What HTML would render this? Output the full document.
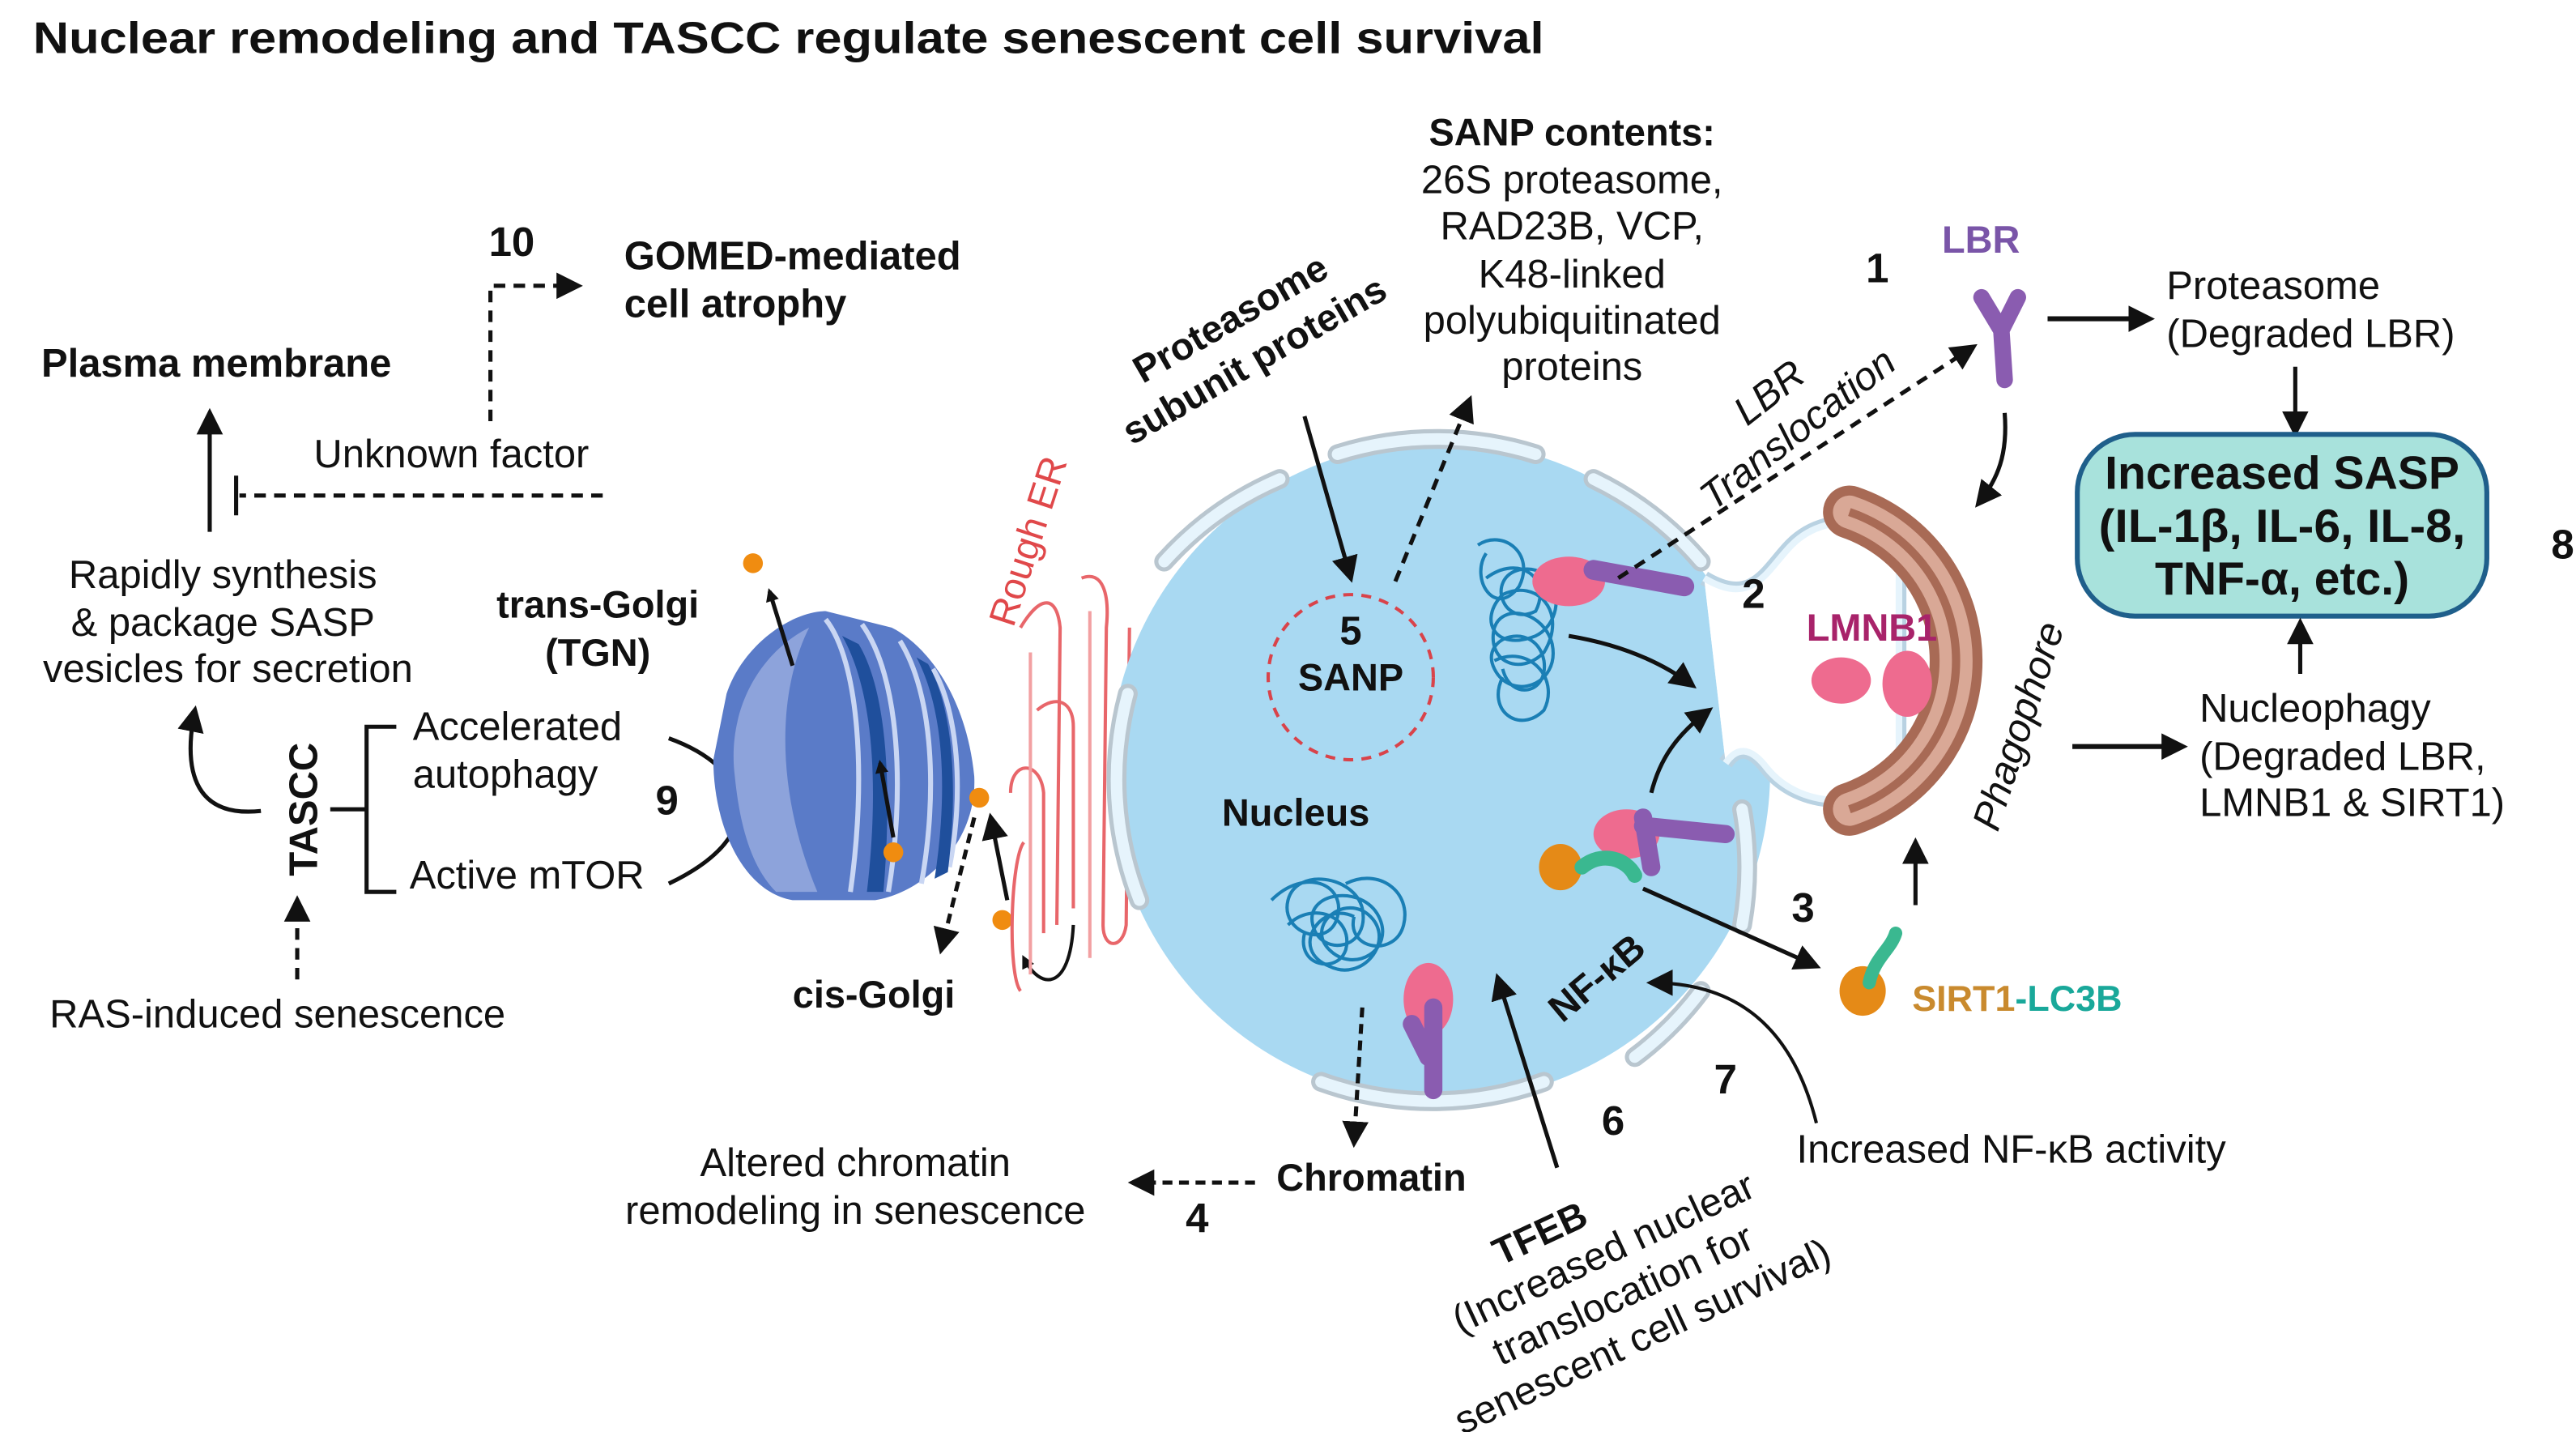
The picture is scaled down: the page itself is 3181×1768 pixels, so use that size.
<!DOCTYPE html>
<html><head><meta charset="utf-8"><style>
html,body{margin:0;padding:0;background:#fff;}
svg{display:block;}
text{font-family:"Liberation Sans",sans-serif;fill:#111;}
.b{font-weight:bold;}
.r{font-size:24px;}
</style></head><body>
<svg width="3181" height="1768" viewBox="0 0 1560 867" xmlns="http://www.w3.org/2000/svg">
<defs>
<marker id="ah" markerWidth="8" markerHeight="8" refX="6" refY="4" orient="auto" markerUnits="userSpaceOnUse"><path d="M0,0 L8,4 L0,8 z" fill="#111"/></marker>
<marker id="ahb" markerWidth="16" markerHeight="16" refX="13" refY="8" orient="auto" markerUnits="userSpaceOnUse"><path d="M0,0 L16,8 L0,16 z" fill="#111"/></marker>
</defs>
<rect width="1560" height="867" fill="#fff"/>
<text x="20" y="32" class="b" font-size="27" textLength="915" lengthAdjust="spacingAndGlyphs">Nuclear remodeling and TASCC regulate senescent cell survival</text>

<text x="296" y="155" class="b" font-size="25">10</text>
<text x="378" y="163" class="b" font-size="24">GOMED-mediated</text>
<text x="378" y="192" class="b" font-size="24">cell atrophy</text>
<path d="M297,255 V173 H350" fill="none" stroke="#111" stroke-width="2.5" stroke-dasharray="7,5" marker-end="url(#ahb)"/>
<text x="25" y="228" class="b" font-size="24">Plasma membrane</text>
<line x1="127" y1="322" x2="127" y2="250" stroke="#111" stroke-width="2.5" marker-end="url(#ahb)"/>
<text x="190" y="283" class="r">Unknown factor</text>
<line x1="365" y1="300" x2="145" y2="300" stroke="#111" stroke-width="2.5" stroke-dasharray="7,5"/>
<line x1="143" y1="288" x2="143" y2="312" stroke="#111" stroke-width="2.5"/>
<text x="135" y="356" class="r" text-anchor="middle">Rapidly  synthesis</text>
<text x="135" y="385" class="r" text-anchor="middle">&amp; package SASP</text>
<text x="138" y="413" class="r" text-anchor="middle">vesicles for secretion</text>
<path d="M158,491 C120,495 110,470 118,430" fill="none" stroke="#111" stroke-width="2.5" marker-end="url(#ahb)"/>
<text transform="translate(192,490) rotate(-90)" class="b" font-size="24" text-anchor="middle">TASCC</text>
<path d="M240,440 H222 V540 H240 M200,490 H222" fill="none" stroke="#111" stroke-width="2.5"/>
<text x="250" y="448" class="r">Accelerated</text>
<text x="250" y="477" class="r">autophagy</text>
<text x="248" y="538" class="r">Active mTOR</text>
<text x="397" y="493" class="b" font-size="25">9</text>
<path d="M405,447 C455,465 468,505 405,535" fill="none" stroke="#111" stroke-width="2.5"/>
<line x1="180" y1="593" x2="180" y2="545" stroke="#111" stroke-width="2.5" stroke-dasharray="7,5" marker-end="url(#ahb)"/>
<text x="30" y="622" class="r">RAS-induced senescence</text>

<text x="362" y="374" class="b" font-size="23" text-anchor="middle">trans-Golgi</text>
<text x="362" y="403" class="b" font-size="23" text-anchor="middle">(TGN)</text>
<g>
<path d="M440,420 C450,390 480,370 500,370 L540,380 C560,390 585,420 590,470 C592,510 560,540 530,545 L480,545 C450,540 432,500 432,460 Z" fill="#5a7bc8"/>
<path d="M445,470 C440,430 460,395 490,380 C470,420 470,480 495,540 L470,540 C455,525 448,500 445,470Z" fill="#8da3db"/>
<path d="M500,375 C520,400 525,470 515,540 M522,378 C545,410 548,480 538,540 M545,388 C565,420 568,480 558,535 M565,405 C580,430 584,480 575,525" fill="none" stroke="#c9d6f3" stroke-width="3"/>
<path d="M510,385 C530,420 532,480 525,540 L535,540 C540,480 538,420 520,390Z" fill="#1f4f9c"/>
<path d="M555,398 C572,430 574,480 566,532 L574,528 C580,480 578,430 562,402Z" fill="#1f4f9c"/>
</g>
<circle cx="456" cy="341" r="6" fill="#f08c10"/>
<line x1="480" y1="403" x2="466" y2="358" stroke="#111" stroke-width="2.5" marker-end="url(#ah)"/>
<line x1="541" y1="507" x2="533" y2="462" stroke="#111" stroke-width="2.5" marker-end="url(#ah)"/>
<circle cx="541" cy="516" r="6" fill="#f08c10"/>
<circle cx="593" cy="483" r="6" fill="#f08c10"/>
<circle cx="607" cy="557" r="6" fill="#f08c10"/>
<line x1="590" y1="495" x2="570" y2="575" stroke="#111" stroke-width="2.5" stroke-dasharray="6,4" marker-end="url(#ahb)"/>
<line x1="610" y1="545" x2="600" y2="495" stroke="#111" stroke-width="2.5" marker-end="url(#ahb)"/>
<path d="M650,560 C648,600 630,600 620,580" fill="none" stroke="#111" stroke-width="2" marker-end="url(#ah)"/>
<text x="480" y="610" class="b" font-size="23">cis-Golgi</text>

<text transform="translate(630,330) rotate(-72)" font-size="23" style="fill:#e0484a" text-anchor="middle">Rough ER</text>
<path d="M618,380 C630,360 640,360 642,380 L640,560 M655,350 C668,345 672,360 670,380 L668,560 C668,575 680,575 682,560 L684,380 M628,430 C640,420 650,425 650,440 L650,550 M612,480 C612,460 630,460 632,480 L632,565 M618,600 C610,590 612,520 620,510" fill="none" stroke="#e8666a" stroke-width="2"/>
<path d="M624,395 L624,590 M660,370 L660,580" fill="none" stroke="#f2a0a2" stroke-width="2"/>

<circle cx="872" cy="467" r="200" fill="#a9d9f2"/>
<g fill="none" stroke="#b9c6cf" stroke-width="12" stroke-linecap="round">
<path d="M705,340 A200,200 0 0 1 775,290"/>
<path d="M810,275 A200,200 0 0 1 930,275"/>
<path d="M965,290 A200,200 0 0 1 1030,340"/>
<path d="M1055,490 A200,200 0 0 1 1055,560"/>
<path d="M1030,600 A200,200 0 0 1 990,640"/>
<path d="M935,655 A200,200 0 0 1 800,655"/>
<path d="M690,545 A200,200 0 0 1 683,420"/>
</g>
<g fill="none" stroke="#e6f4fc" stroke-width="7" stroke-linecap="round">
<path d="M705,340 A200,200 0 0 1 775,290"/>
<path d="M810,275 A200,200 0 0 1 930,275"/>
<path d="M965,290 A200,200 0 0 1 1030,340"/>
<path d="M1055,490 A200,200 0 0 1 1055,560"/>
<path d="M1030,600 A200,200 0 0 1 990,640"/>
<path d="M935,655 A200,200 0 0 1 800,655"/>
<path d="M690,545 A200,200 0 0 1 683,420"/>
</g>
<circle cx="818" cy="410" r="50" fill="none" stroke="#d9434a" stroke-width="2" stroke-dasharray="6,5"/>
<text x="818" y="390" class="b" font-size="24" text-anchor="middle">5</text>
<text x="818" y="418" class="b" font-size="23" text-anchor="middle">SANP</text>
<text x="740" y="500" class="b" font-size="23">Nucleus</text>
<g fill="none" stroke="#1a7fb5" stroke-width="2">
<path d="M900,350 c20,-15 40,0 30,20 c-20,10 -30,-20 -10,-25 c25,-5 30,30 10,40 c-25,10 -35,-10 -20,-25 c20,-10 40,10 25,35 c-15,15 -35,5 -30,-15 c5,-15 30,-10 35,10 c5,25 -25,35 -35,15 c-10,-20 25,-30 30,-5 c3,20 -20,25 -25,5"/>
<path d="M895,330 c15,-10 35,5 25,25 c-15,20 -30,-5 -20,-20 M905,400 c20,-10 40,10 30,30 c-15,15 -35,0 -25,-20"/>
<path d="M770,545 c20,-20 45,-10 40,10 c-5,20 -35,10 -30,-10 c5,-20 40,-15 45,5 c5,25 -25,30 -30,10 c-5,-20 30,-25 40,-5 c10,20 -15,35 -30,20 c-15,-15 10,-35 25,-20 c15,15 -5,40 -25,30 c-25,-10 -5,-40 15,-30"/>
<path d="M780,560 c15,-15 40,-5 35,15 c-5,15 -30,10 -25,-10 M815,535 c20,-10 40,5 35,25 c-5,20 -35,15 -30,-5"/>
</g>
<path d="M1032,350 C1062,368 1070,345 1085,330 C1110,305 1150,320 1150,330 L1150,470 C1130,490 1090,490 1070,465 C1060,452 1052,452 1045,462" fill="#fff" stroke="#b9d2e2" stroke-width="9"/>
<path d="M1032,350 C1062,368 1070,345 1085,330 C1110,305 1150,320 1150,330 L1150,470 C1130,490 1090,490 1070,465 C1060,452 1052,452 1045,462" fill="#fff" stroke="#e6f4fc" stroke-width="4"/>
<g>
<ellipse cx="950" cy="352" rx="22" ry="15" fill="#ee6b8f"/>
<path d="M965,345 L1020,355" stroke="#8a5cb0" stroke-width="12" stroke-linecap="round"/>
<ellipse cx="985" cy="505" rx="20" ry="15" fill="#ee6b8f"/>
<path d="M995,500 L1045,505 M995,495 L1000,525" stroke="#8a5cb0" stroke-width="11" stroke-linecap="round"/>
<ellipse cx="865" cy="605" rx="15" ry="22" fill="#ee6b8f"/>
<path d="M868,610 L868,660 M855,620 L865,640" stroke="#8a5cb0" stroke-width="11" stroke-linecap="round"/>
<ellipse cx="945" cy="525" rx="13" ry="14" fill="#e58a17"/>
<path d="M958,525 C970,515 985,520 990,530" stroke="#3ab890" stroke-width="9" fill="none" stroke-linecap="round"/>
</g>
<path d="M950,385 C980,390 1005,400 1025,415" fill="none" stroke="#111" stroke-width="2.5" marker-end="url(#ahb)"/>
<path d="M1000,480 C1005,460 1015,445 1035,430" fill="none" stroke="#111" stroke-width="2.5" marker-end="url(#ahb)"/>
<text transform="translate(755,210) rotate(-30)" class="b" font-size="23" text-anchor="middle"><tspan x="0" y="-12">Proteasome</tspan><tspan x="0" y="17">subunit proteins</tspan></text>
<line x1="790" y1="252" x2="818" y2="350" stroke="#111" stroke-width="2.5" marker-end="url(#ahb)"/>
<line x1="845" y1="352" x2="890" y2="242" stroke="#111" stroke-width="2.5" stroke-dasharray="7,5" marker-end="url(#ahb)"/>
<text x="952" y="88" class="b" font-size="23" text-anchor="middle">SANP contents:</text>
<text x="952" y="117" class="r" text-anchor="middle">26S proteasome,</text>
<text x="952" y="145" class="r" text-anchor="middle">RAD23B, VCP,</text>
<text x="952" y="174" class="r" text-anchor="middle">K48-linked</text>
<text x="952" y="202" class="r" text-anchor="middle">polyubiquitinated</text>
<text x="952" y="230" class="r" text-anchor="middle">proteins</text>
<text transform="translate(1085,255) rotate(-38)" class="r" text-anchor="middle" font-style="italic"><tspan x="0" y="-14">LBR</tspan><tspan x="0" y="14">Translocation</tspan></text>
<line x1="980" y1="350" x2="1195" y2="210" stroke="#111" stroke-width="2.5" stroke-dasharray="7,5" marker-end="url(#ahb)"/>
<text x="1176" y="153" class="b" font-size="23" style="fill:#7a55a8">LBR</text>
<text x="1130" y="171" class="b" font-size="25">1</text>
<path d="M1200,180 L1212,200 L1222,180 M1212,200 L1214,230" stroke="#8a5cb0" stroke-width="10" fill="none" stroke-linecap="round"/>
<line x1="1240" y1="193" x2="1302" y2="193" stroke="#111" stroke-width="3" marker-end="url(#ahb)"/>
<text x="1312" y="181" class="r">Proteasome</text>
<text x="1312" y="210" class="r">(Degraded LBR)</text>
<line x1="1390" y1="222" x2="1390" y2="262" stroke="#111" stroke-width="2.5" marker-end="url(#ahb)"/>
<rect x="1258" y="263" width="248" height="110" rx="35" fill="#a8e2dc" stroke="#1f5f8b" stroke-width="3"/>
<text x="1382" y="296" class="b" font-size="28" text-anchor="middle">Increased SASP</text>
<text x="1382" y="328" class="b" font-size="28" text-anchor="middle" textLength="222" lengthAdjust="spacingAndGlyphs">(IL-1β, IL-6, IL-8,</text>
<text x="1382" y="360" class="b" font-size="28" text-anchor="middle">TNF-α, etc.)</text>
<text x="1545" y="338" class="b" font-size="25">8</text>
<line x1="1393" y1="408" x2="1393" y2="377" stroke="#111" stroke-width="2.5" marker-end="url(#ahb)"/>
<text x="1332" y="437" class="r">Nucleophagy</text>
<text x="1332" y="466" class="r">(Degraded LBR,</text>
<text x="1332" y="494" class="r">LMNB1 &amp; SIRT1)</text>
<line x1="1255" y1="452" x2="1322" y2="452" stroke="#111" stroke-width="3" marker-end="url(#ahb)"/>

<path d="M1120,310 A95,95 0 0 1 1120,490" fill="none" stroke="#a86a55" stroke-width="32" stroke-linecap="round"/>
<path d="M1120,310 A95,95 0 0 1 1120,490" fill="none" stroke="#d9a896" stroke-width="20" stroke-linecap="round"/>
<path d="M1120,310 A95,95 0 0 1 1120,490" fill="none" stroke="#a86a55" stroke-width="5"/>
<text transform="translate(1230,442) rotate(-72)" class="r" font-style="italic" text-anchor="middle">Phagophore</text>
<text x="1055" y="368" class="b" font-size="25">2</text>
<text x="1094" y="388" class="b" font-size="23" style="fill:#a8236a">LMNB1</text>
<ellipse cx="1115" cy="412" rx="18" ry="14" fill="#ee6b8f"/>
<ellipse cx="1155" cy="414" rx="15" ry="20" fill="#ee6b8f"/>
<path d="M1214,250 C1216,275 1210,290 1198,305" fill="none" stroke="#111" stroke-width="2.5" marker-end="url(#ahb)"/>
<line x1="1160" y1="548" x2="1160" y2="510" stroke="#111" stroke-width="2.5" marker-end="url(#ahb)"/>
<text x="1085" y="558" class="b" font-size="25">3</text>
<line x1="995" y1="538" x2="1100" y2="585" stroke="#111" stroke-width="2.5" marker-end="url(#ahb)"/>
<ellipse cx="1128" cy="600" rx="14" ry="15" fill="#e58a17"/>
<path d="M1132,595 C1135,580 1145,575 1148,565" stroke="#3ab890" stroke-width="8" fill="none" stroke-linecap="round"/>
<text x="1158" y="612" class="b" font-size="22"><tspan style="fill:#c98a2e">SIRT1</tspan><tspan style="fill:#19a89a">-LC3B</tspan></text>
<text transform="translate(972,598) rotate(-40)" class="b" font-size="23" text-anchor="middle">NF-κB</text>
<text x="1038" y="662" class="b" font-size="25">7</text>
<path d="M1100,680 C1085,620 1050,595 1000,595" fill="none" stroke="#111" stroke-width="2" marker-end="url(#ahb)"/>
<text x="970" y="687" class="b" font-size="25">6</text>
<line x1="943" y1="707" x2="907" y2="592" stroke="#111" stroke-width="2.5" marker-end="url(#ahb)"/>
<text x="1088" y="704" class="r">Increased NF-κB activity</text>
<line x1="825" y1="610" x2="820" y2="692" stroke="#111" stroke-width="2.5" stroke-dasharray="6,4" marker-end="url(#ahb)"/>
<text x="773" y="721" class="b" font-size="23">Chromatin</text>
<text x="518" y="712" class="r" text-anchor="middle">Altered chromatin</text>
<text x="518" y="741" class="r" text-anchor="middle">remodeling in senescence</text>
<line x1="760" y1="716" x2="686" y2="716" stroke="#111" stroke-width="2.5" stroke-dasharray="6,4" marker-end="url(#ahb)"/>
<text x="718" y="746" class="b" font-size="25">4</text>
<g transform="translate(982,782) rotate(-25)">
<text x="-30" y="-45" class="b" font-size="23" text-anchor="middle">TFEB</text>
<text x="0" y="-18" class="r" text-anchor="middle">(Increased nuclear</text>
<text x="0" y="10" class="r" text-anchor="middle">translocation for</text>
<text x="0" y="38" class="r" text-anchor="middle">senescent cell survival)</text>
</g>
</svg>
</body></html>
